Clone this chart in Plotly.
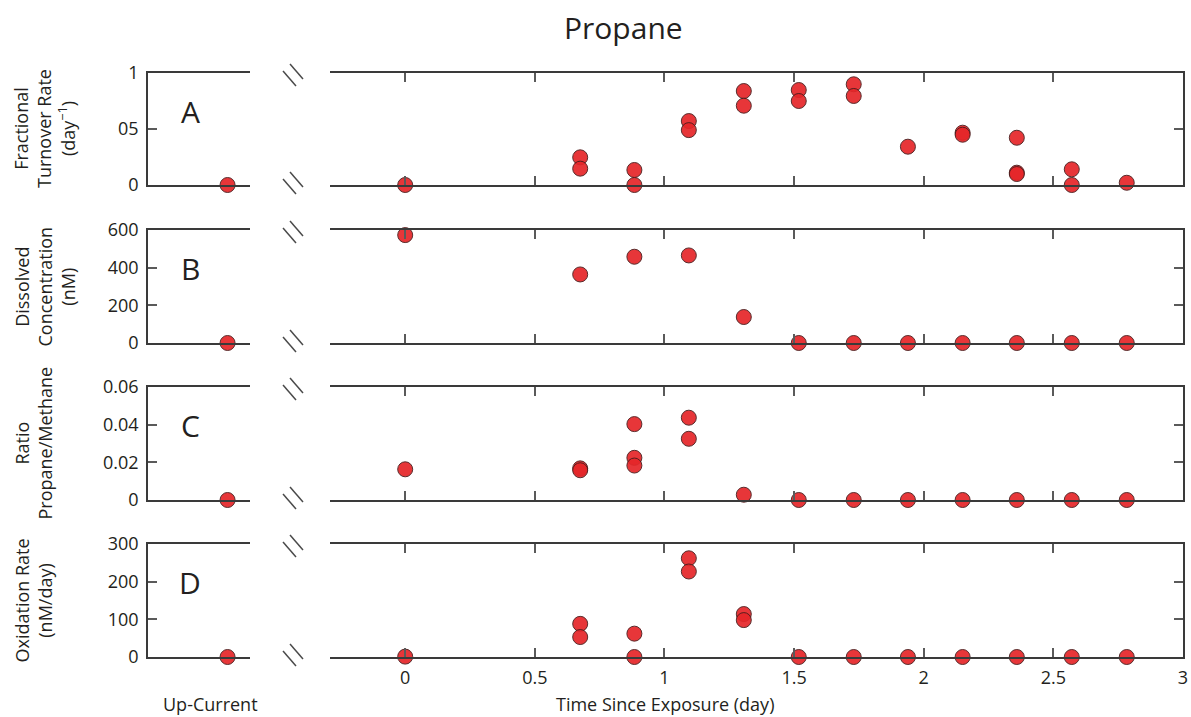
import plotly.graph_objects as go

# ---- data -------------------------------------------------------------
time_ticks = [0, 0.5, 1, 1.5, 2, 2.5, 3]
time_tick_text = ["0", "0.5", "1", "1.5", "2", "2.5", "3"]

# A: fractional turnover rate (day^-1)
turnover_t = [0, 0.675, 0.675, 0.884, 0.884, 1.094, 1.094, 1.306, 1.306,
              1.518, 1.518, 1.73, 1.73, 1.939, 2.15, 2.15, 2.359, 2.359,
              2.359, 2.571, 2.571, 2.783]
turnover_v = [0, 0.247, 0.146, 0.134, 0, 0.571, 0.49, 0.839, 0.708,
              0.848, 0.75, 0.899, 0.795, 0.342, 0.467, 0.449, 0.422, 0.11,
              0.098, 0.14, 0, 0.02]

# B: dissolved propane concentration (nM)
conc_t = [0, 0.675, 0.884, 1.094, 1.306, 1.518, 1.73, 1.939, 2.15, 2.359,
          2.571, 2.783]
conc_v = [573, 364, 458, 465, 138, 0, 0, 0, 0, 0, 0, 0]

# C: propane / methane ratio
ratio_t = [0, 0.675, 0.675, 0.884, 0.884, 0.884, 1.094, 1.094, 1.306,
           1.518, 1.73, 1.939, 2.15, 2.359, 2.571, 2.783]
ratio_v = [0.0163, 0.0168, 0.0158, 0.0403, 0.0224, 0.0183, 0.0437, 0.0325,
           0.0028, 0, 0, 0, 0, 0, 0, 0]

# D: oxidation rate (nM/day)
oxid_t = [0, 0.675, 0.675, 0.884, 0.884, 1.094, 1.094, 1.306, 1.306,
          1.518, 1.73, 1.939, 2.15, 2.359, 2.571, 2.783]
oxid_v = [1, 88, 53, 62, 0, 262, 227, 114, 98, 0, 0, 0, 0, 0, 0, 0]

# up-current reference values (one per panel)
upcurrent_v = [0, 0, 0, 0]

panel_letters = ["A", "B", "C", "D"]
y_titles = ["Fractional<br>Turnover Rate<br>(day<sup>−1</sup>)",
            "Dissolved<br>Concentration<br>(nM)",
            "Ratio<br>Propane/Methane",
            "Oxidation Rate<br>(nM/day)"]
y_ranges = [[0, 1], [0, 600], [0, 0.06], [0, 300]]
y_tickvals = [[0, 0.5, 1], [0, 200, 400, 600], [0, 0.02, 0.04, 0.06],
              [0, 100, 200, 300]]
y_ticktext = [["0", "05", "1"], ["0", "200", "400", "600"],
              ["0", "0.02", "0.04", "0.06"], ["0", "100", "200", "300"]]
series = [(turnover_t, turnover_v), (conc_t, conc_v), (ratio_t, ratio_v),
          (oxid_t, oxid_v)]

# ---- layout geometry (pixels on a 1191 x 717 canvas) ------------------
W, H = 1191, 717
FONT = "Open Sans"
TXT = "#231f20"
LINE = "#3a3a3a"
TICK = "#5a5a5a"
RED = "#e52629"


def fx(px):
    return px / W


def fy(py):
    return 1 - py / H


row_top = [73, 230, 387, 544]
row_bot = [185, 343, 500, 657]
left_x = [148, 250]
main_x = [330, 1183]

fig = go.Figure()
layout = dict(
    width=W, height=H, autosize=False,
    margin=dict(l=0, r=0, t=0, b=0, pad=0, autoexpand=False),
    paper_bgcolor="white", plot_bgcolor="white",
    showlegend=False,
    font=dict(family=FONT, size=18, color=TXT),
)
annotations = []
shapes = []

marker = dict(size=15, color=RED, opacity=0.92,
              line=dict(color="#4a1c1c", width=1))


def note(text, x, y, size, angle=0):
    return dict(text=text, x=fx(x), y=fy(y), xref="paper", yref="paper",
                xanchor="center", yanchor="middle", textangle=angle,
                showarrow=False, font=dict(family=FONT, size=size, color=TXT))


for r in range(4):
    iL = 2 * r + 1
    iM = 2 * r + 2
    ydom = [fy(row_bot[r]), fy(row_top[r])]
    sL = "" if iL == 1 else str(iL)
    sM = str(iM)

    # left "Up-Current" panel
    layout["xaxis" + sL] = dict(
        domain=[fx(left_x[0]), fx(left_x[1])], range=[0, 1],
        anchor="y" + sL, showline=True, mirror=True, linecolor=LINE,
        linewidth=1.5, ticks="", showticklabels=False, showgrid=False,
        zeroline=False, automargin=False)
    layout["yaxis" + sL] = dict(
        domain=ydom, range=y_ranges[r], anchor="x" + sL,
        showline=True, linecolor=LINE, linewidth=1.5, mirror=False,
        ticks="inside", ticklen=9, tickwidth=1.5, tickcolor=TICK,
        tickvals=y_tickvals[r], ticktext=y_ticktext[r],
        tickfont=dict(family=FONT, size=18, color=TXT),
        ticklabelstandoff=4, showgrid=False, zeroline=False,
        automargin=False)

    # main time-series panel
    layout["xaxis" + sM] = dict(
        domain=[fx(main_x[0]), fx(main_x[1])], range=[-0.29, 3.0],
        anchor="y" + sM, showline=True, mirror="allticks", linecolor=LINE,
        linewidth=1.5, ticks="inside", ticklen=9, tickwidth=1.5,
        tickcolor=TICK, tickvals=time_ticks, ticktext=time_tick_text,
        showticklabels=(r == 3), tickfont=dict(family=FONT, size=18, color=TXT),
        ticklabelstandoff=4, showgrid=False, zeroline=False,
        automargin=False)
    layout["yaxis" + sM] = dict(
        domain=ydom, range=y_ranges[r], anchor="x" + sM, side="right",
        showline=True, linecolor=LINE, linewidth=1.5, mirror=False,
        ticks="inside", ticklen=9, tickwidth=1.5, tickcolor=TICK,
        tickvals=y_tickvals[r], showticklabels=False, showgrid=False,
        zeroline=False, automargin=False)

    fig.add_trace(go.Scatter(
        x=[0.78], y=[upcurrent_v[r]], mode="markers", marker=marker,
        xaxis="x" + sL, yaxis="y" + sL, cliponaxis=False))
    t, v = series[r]
    fig.add_trace(go.Scatter(
        x=t, y=v, mode="markers", marker=marker,
        xaxis="x" + sM, yaxis="y" + sM, cliponaxis=False))

    # panel letter
    annotations.append(note(panel_letters[r], 190, row_top[r] + 38, 30))

    # y-axis title
    nlines = y_titles[r].count("<br>") + 1
    annotations.append(note(y_titles[r], 45 if nlines == 3 else 33,
                            (row_top[r] + row_bot[r]) / 2, 18, -90))

    # axis break marks between the two panels
    for yl, off in ((row_top[r], 2), (row_bot[r], -2)):
        cy = yl + off
        for dx, dy in ((-3.5, 3.5), (3.5, -3.5)):
            cx = 293 + dx
            cyy = cy + dy
            shapes.append(dict(
                type="line", xref="paper", yref="paper",
                x0=fx(cx - 6.5), y0=fy(cyy - 7.5),
                x1=fx(cx + 6.5), y1=fy(cyy + 7.5),
                line=dict(color="#4a4a4a", width=1.5)))

# title and x-axis captions
annotations.append(note("Propane", 623, 28, 30))
annotations.append(note("Up-Current", 210, 704, 18))
annotations.append(note("Time Since Exposure (day)", 665, 704, 18))

layout["annotations"] = annotations
layout["shapes"] = shapes
fig.update_layout(**layout)

fig.write_html("out.html")
